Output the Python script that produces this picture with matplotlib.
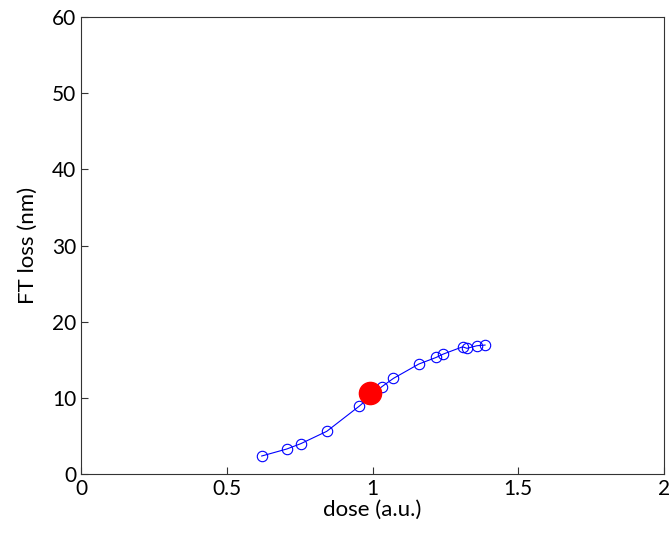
import numpy as np
import matplotlib
matplotlib.use("Agg")
from matplotlib import pyplot as plt

# dose (a.u.) und FT loss (nm)
dose = [0.620, 0.706, 0.754, 0.843, 0.955, 1.032, 1.072, 1.159, 1.218,
        1.243, 1.309, 1.324, 1.358, 1.386]
loss = [2.36, 3.28, 3.98, 5.6, 8.92, 11.46, 12.56, 14.44, 15.3,
        15.75, 16.7, 16.5, 16.84, 16.93]
# markierter Punkt
mark_dose = [0.992]
mark_loss = [10.6]

xticks = [0, 0.5, 1, 1.5, 2]
xticklabels = ["0", "0.5", "1", "1.5", "2"]
yticks = [0, 10, 20, 30, 40, 50, 60]

plt.rcParams["font.family"] = ["Lato", "DejaVu Sans"]

fig = plt.figure(figsize=(6.71, 5.34), dpi=100)
ax = fig.add_axes([0.1207, 0.1124, 0.8689, 0.8556])

ax.plot(dose, loss, color="blue", lw=0.8, marker="o", markersize=7.5,
        markerfacecolor="none", markeredgecolor="blue", markeredgewidth=0.8)
ax.plot(mark_dose, mark_loss, ls="None", marker="o", markersize=16,
        color="red")

ax.set_xlim(0, 2)
ax.set_ylim(0, 60)
ax.set_xticks(xticks)
ax.set_xticklabels(xticklabels)
ax.set_yticks(yticks)
ax.tick_params(direction="in", length=5, labelsize=15, colors="#333333",
               labelcolor="black", top=False, right=False)
for s in ax.spines.values():
    s.set_color("#333333")
ax.set_xlabel("dose (a.u.)", fontsize=16, labelpad=1)
ax.set_ylabel("FT loss (nm)", fontsize=16, labelpad=10)

fig.savefig("out.png", dpi=100)
